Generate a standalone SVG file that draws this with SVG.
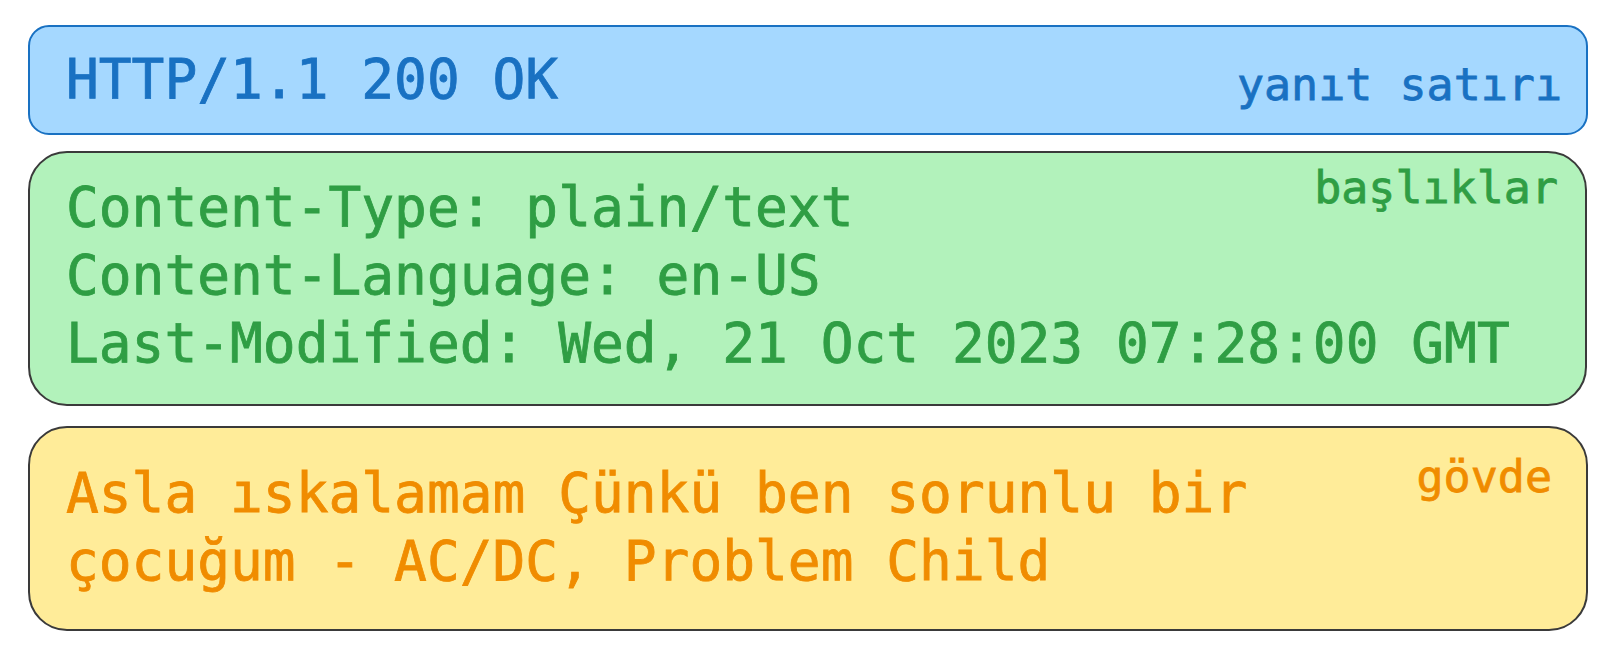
<svg xmlns="http://www.w3.org/2000/svg" width="1616" height="656" viewBox="0 0 1616 656">
<style>
.main{font-family:"DejaVu Sans Mono","Liberation Mono",monospace;font-size:54.5px;stroke-width:0.8px}
.lbl{font-family:"DejaVu Sans Mono","Liberation Mono",monospace;font-size:45px;text-anchor:end;stroke-width:0.8px}
.blue{fill:#1971c2;stroke:#1971c2}
.green{fill:#2f9e44;stroke:#2f9e44}
.orange{fill:#f08c00;stroke:#f08c00}
</style>
<rect width="1616" height="656" fill="#ffffff"/>
<g id="response-line">
<rect x="29" y="26" width="1558" height="108" rx="20" fill="#a5d8ff" stroke="#1971c2" stroke-width="2"/>
<text class="main blue" x="66" y="98">HTTP/1.1 200 OK</text>
<text class="lbl blue" x="1562" y="100">yanıt satırı</text>
</g>
<g id="headers">
<rect x="29" y="152" width="1557" height="253" rx="38" fill="#b2f2bb" stroke="#3a3a3a" stroke-width="2"/>
<text class="main green" x="66" y="226">Content-Type: plain/text</text>
<text class="main green" x="66" y="294">Content-Language: en-US</text>
<text class="main green" x="66" y="362">Last-Modified: Wed, 21 Oct 2023 07:28:00 GMT</text>
<text class="lbl green" x="1558" y="203">başlıklar</text>
</g>
<g id="body">
<rect x="29" y="427" width="1558" height="203" rx="38" fill="#ffec99" stroke="#3a3a3a" stroke-width="2"/>
<text class="main orange" x="66" y="512">Asla ıskalamam Çünkü ben sorunlu bir</text>
<text class="main orange" x="66" y="580">çocuğum - AC/DC, Problem Child</text>
<text class="lbl orange" x="1552" y="492">gövde</text>
</g>
<g id="connectors"></g>
</svg>
